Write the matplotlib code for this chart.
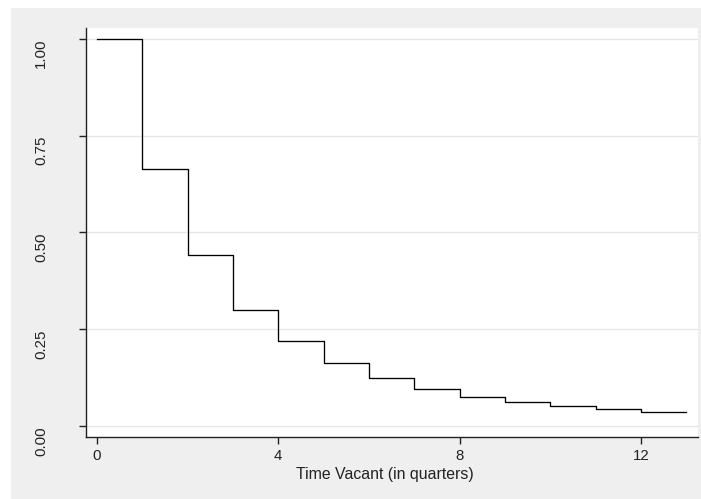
import numpy as np
import matplotlib
matplotlib.use('Agg')
import matplotlib.pyplot as plt
from matplotlib.patches import Rectangle

plt.rcParams['font.family'] = ['Liberation Sans', 'DejaVu Sans']

# Kaplan-Meier style survival of vacancies, one step per quarter
quarters = [0, 1, 2, 3, 4, 5, 6, 7, 8, 9, 10, 11, 12, 13]
survival = [1.000, 0.663, 0.441, 0.300, 0.221, 0.162, 0.124, 0.096,
            0.075, 0.062, 0.053, 0.044, 0.037, 0.037]

x_ticks = [0, 4, 8, 12]
y_ticks = [0.00, 0.25, 0.50, 0.75, 1.00]
y_ticklabels = ['0.00', '0.25', '0.50', '0.75', '1.00']
x_label = 'Time Vacant (in quarters)'

W, H = 701, 499
fig = plt.figure(figsize=(W / 100, H / 100), dpi=100, facecolor='white')

# Stata-like gray graph region behind the plot
fig.patches.append(Rectangle((11 / W, 0), 1 - 11 / W, 1 - 8 / H,
                             transform=fig.transFigure, facecolor='#efefef',
                             edgecolor='none', zorder=-10))

ax = fig.add_axes([86 / W, (H - 437) / H, (698 - 86) / W, (437 - 28) / H])
ax.set_facecolor('white')

ax.step(quarters, survival, where='post', color='black', linewidth=0.95)

ax.set_xlim(-0.243, 13.26)
ax.set_ylim(-0.028, 1.028)

ax.set_xticks(x_ticks)
ax.set_xticklabels([str(t) for t in x_ticks])
ax.set_yticks(y_ticks)
# vertical labels hang down from their tick, as Stata draws them
ax.set_yticklabels(y_ticklabels, rotation=90, rotation_mode='anchor',
                   ha='right', va='baseline')

ax.grid(axis='y', color='#e6e6e6', linewidth=0.9)
ax.set_axisbelow(True)

for side in ['top', 'right']:
    ax.spines[side].set_visible(False)
for side in ['left', 'bottom']:
    ax.spines[side].set_color('#222222')
    ax.spines[side].set_linewidth(1.0)

ax.tick_params(axis='both', direction='out', length=5, width=1.0,
               color='#222222', labelsize=10.8, labelcolor='#222222')
ax.tick_params(axis='y', pad=24.5)
ax.tick_params(axis='x', pad=4)

ax.set_xlabel(x_label, fontsize=11.4, color='#222222', labelpad=0)
ax.xaxis.set_label_coords(0.4886, -0.073, transform=ax.transAxes)
ax.xaxis.label.set_va('top')

fig.savefig('out.png', dpi=100, facecolor='white')
